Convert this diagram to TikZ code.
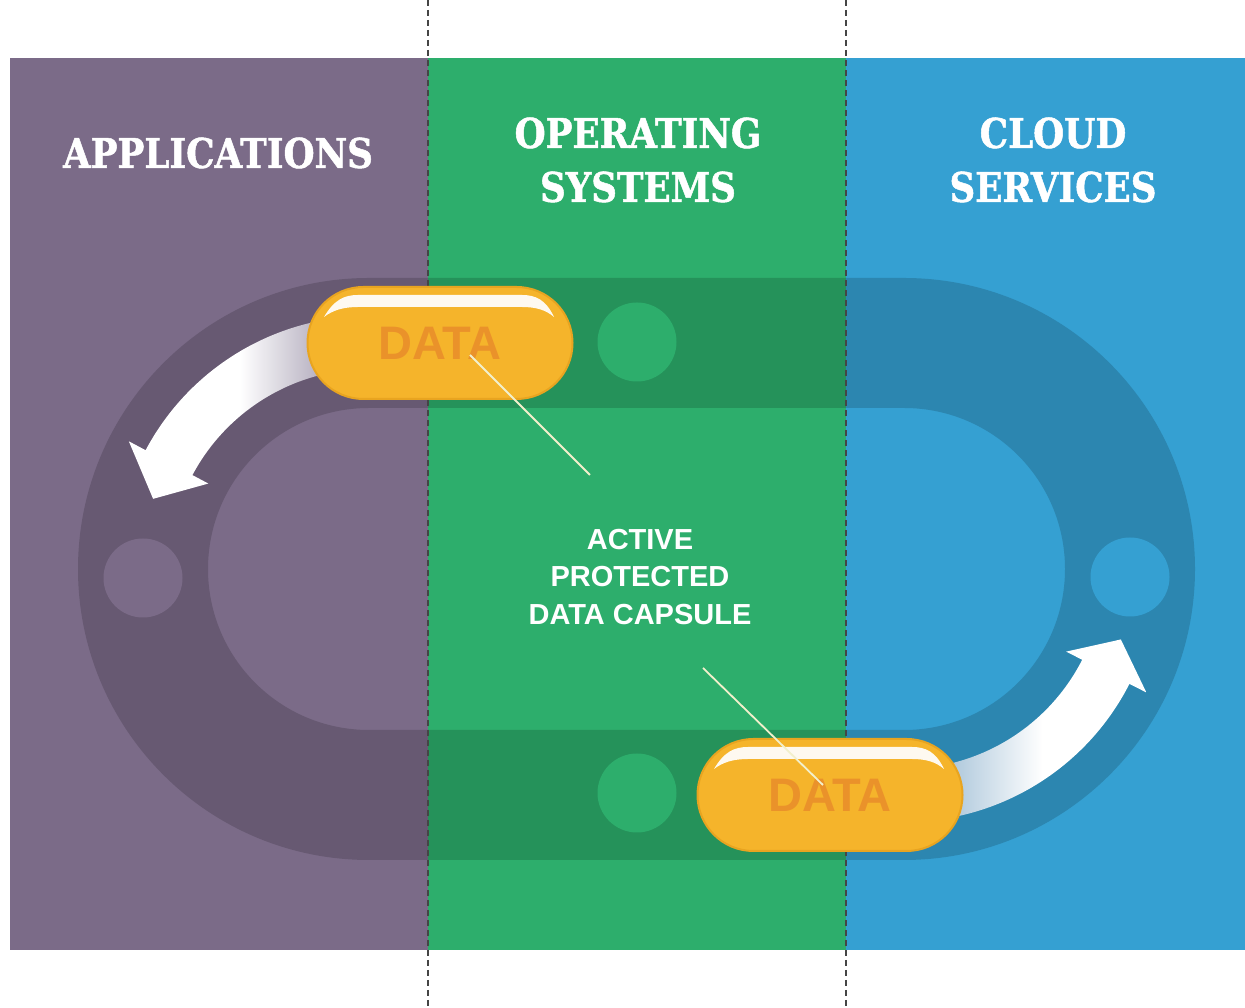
\documentclass[tikz,border=0pt]{standalone}
\usepackage{fontspec}
\setmainfont{Liberation Sans}
\newfontfamily\headfont[FakeStretch=0.87,FakeBold=1.2]{DejaVu Serif}
\newfontfamily\labfont{Liberation Sans}
\usetikzlibrary{calc}
\definecolor{appC}{HTML}{7B6B88}
\definecolor{osC}{HTML}{2DAE6C}
\definecolor{clC}{HTML}{35A0D2}
\definecolor{capC}{HTML}{F5B42B}
\definecolor{capE}{HTML}{E8A420}
\definecolor{dataC}{HTML}{EA922A}
\definecolor{dashC}{HTML}{454545}
\definecolor{leadC}{HTML}{F2F0CC}
\definecolor{arrL}{HTML}{9A91A8}
\definecolor{arrR}{HTML}{A4C1D7}
\begin{document}
\begin{tikzpicture}[x=1pt,y=1pt,
  dashline/.style={draw=dashC, line width=1.6pt, dash pattern=on 6pt off 4pt},
  band/.style={fill=black, fill opacity=0.16, even odd rule},
  dot/.style={circle, minimum size=79pt, inner sep=0pt, fill=#1},
  capsule/.style={rectangle, rounded corners=55.9pt, minimum width=265pt, minimum height=112pt,
    fill=capC, draw=capE, line width=2pt, text=dataC, inner sep=0pt,
    font=\labfont\fontsize{47}{47}\selectfont\bfseries},
  shine/.style={fill=white, fill opacity=0.93},
  header/.style={text=white, align=center, font=\headfont\fontsize{41}{54}\selectfont\bfseries},
  captext/.style={text=white, align=center, font=\labfont\fontsize{29}{37.5}\selectfont\bfseries},
  leader/.style={draw=leadC, line width=1.8pt}
]
\fill[white] (0,0) rectangle (1245,1008);
\useasboundingbox (0,0) rectangle (1245,1008);
% panels
\fill[appC] (10,58) rectangle (428,950);
\fill[osC] (428,58) rectangle (846,950);
\fill[clC] (846,58) rectangle (1245,950);
% ring band
\fill[band] (369,730) -- (904,730) arc[start angle=90,end angle=-90,radius=291]
  -- (369,148) arc[start angle=270,end angle=90,radius=291] -- cycle
  (369,600) -- (904,600) arc[start angle=90,end angle=-90,radius=161]
  -- (369,278) arc[start angle=270,end angle=90,radius=161] -- cycle;
% dashed separators
\coordinate (d1t) at (428,1008); \coordinate (d1b) at (428,0);
\coordinate (d2t) at (846,1008); \coordinate (d2b) at (846,0);
\draw[dashline] (d1t) -- (d1b);
\draw[dashline] (d2t) -- (d2b);
% dots
\node[dot=appC] (dotL) at (143,430) {};
\node[dot=clC] (dotR) at (1130,431) {};
\node[dot=osC] (dotT) at (637,666) {};
\node[dot=osC] (dotB) at (637,215) {};
% left arrow
\begin{scope}[shift={(369,439)}]
\shade[left color=white, right color=arrL, middle color=white]
  (95:253) arc[start angle=95,end angle=152,radius=253] -- (152:272) -- (162:227)
  -- (152:182) -- (152:200) arc[start angle=152,end angle=95,radius=200] -- cycle;
\end{scope}
% right arrow
\begin{scope}[shift={(904,439)}]
\shade[left color=arrR, right color=white, middle color=white]
  (-80:253) arc[start angle=-80,end angle=-27,radius=253] -- (-27:272) -- (-18:228)
  -- (-27:182) -- (-27:200) arc[start angle=-27,end angle=-80,radius=200] -- cycle;
\end{scope}
% capsules
\node[capsule] (cap1) at (440,665) {DATA};
\node[capsule] (cap2) at (830,213) {DATA};
\foreach \c in {cap1,cap2}{
  \begin{scope}[shift={(\c.center)}]
  \fill[shine] (-116,26) .. controls (-106,43) and (-96,48) .. (-82,48) -- (82,48)
    .. controls (96,48) and (106,43) .. (114,26)
    .. controls (106,33) and (96,36) .. (82,36) -- (-82,36)
    .. controls (-96,36) and (-107,33) .. (-116,26) -- cycle;
  \end{scope}
}
% caption and leaders
\node[captext] (cap) at (640,431) {ACTIVE\\PROTECTED\\DATA CAPSULE};
\coordinate (l1a) at (590,533); \coordinate (l1b) at (470,653);
\coordinate (l2a) at (703,340); \coordinate (l2b) at (823,223);
\draw[leader] (l1a) -- (l1b);
\draw[leader] (l2a) -- (l2b);
% headers
\node[header] (hA) at (218,855) {APPLICATIONS};
\node[header] (hO) at (638,848) {OPERATING\\SYSTEMS};
\node[header] (hC) at (1053,848) {CLOUD\\SERVICES};
\end{tikzpicture}
\end{document}
